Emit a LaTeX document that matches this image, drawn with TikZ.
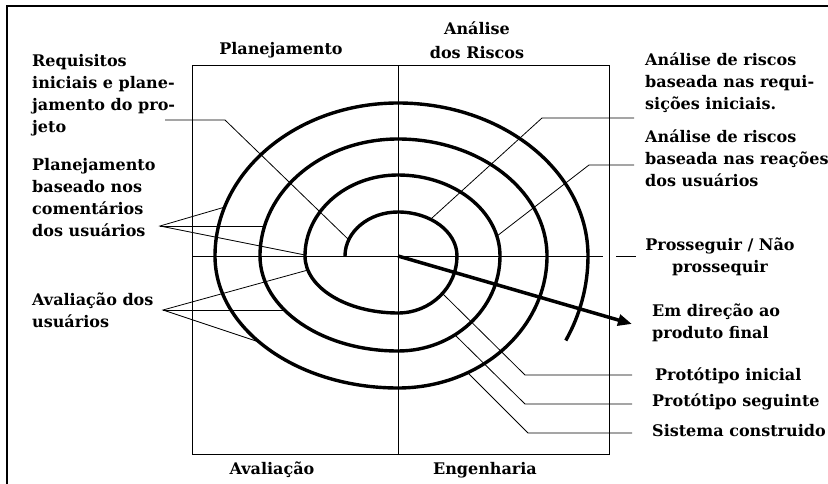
\documentclass[tikz,border=0pt]{standalone}
\usepackage{fontspec}
\setmainfont{Liberation Serif}
\newfontfamily\lblfont{DejaVu Serif}
\usetikzlibrary{positioning,arrows.meta}

\begin{document}
\begin{tikzpicture}[x=1pt, y=-1pt,
    lbl/.style={font=\lblfont\fontsize{16}{22}\selectfont\bfseries, align=left, inner sep=0pt, anchor=north west},
    quad/.style={font=\lblfont\fontsize{16}{24}\selectfont\bfseries, align=center, inner sep=0pt},
    spiral/.style={line width=3.4pt},
    lead/.style={line width=0.8pt}]
  \useasboundingbox (0,0) rectangle (828,484);
  \draw[line width=2pt] (7,484) -- (7,6) -- (828,6);

  % quadrantes
  \draw[line width=1pt] (192,66) rectangle (609,454);
  \draw[line width=1pt] (398,66) -- (398,454);
  \draw[line width=1pt] (192,256) -- (603,256);
  \coordinate (c) at (398,256);

  \node[quad] (plan) at (281,50) {Planejamento};
  \node[quad] (risco) at (477,40) {Análise\\dos Riscos};
  \node[quad] (aval) at (272,470) {Avaliação};
  \node[quad] (eng) at (485,470) {Engenharia};

  % espiral
  \draw[spiral] (345,256)
    arc[start angle=180, end angle=270, x radius=53, y radius=44]
    arc[start angle=270, end angle=360, x radius=59, y radius=44]
    arc[start angle=0, end angle=90, x radius=59, y radius=57]
    arc[start angle=90, end angle=180, x radius=93, y radius=57]
    arc[start angle=180, end angle=270, x radius=93, y radius=81]
    arc[start angle=270, end angle=360, x radius=102, y radius=81]
    arc[start angle=0, end angle=90, x radius=102, y radius=95]
    arc[start angle=90, end angle=180, x radius=138, y radius=95]
    arc[start angle=180, end angle=270, x radius=138, y radius=117]
    arc[start angle=270, end angle=360, x radius=149, y radius=117]
    arc[start angle=0, end angle=90, x radius=149, y radius=132]
    arc[start angle=90, end angle=180, x radius=183, y radius=132]
    arc[start angle=180, end angle=270, x radius=183, y radius=153]
    arc[start angle=270, end angle=360, x radius=190, y radius=153]
    arc[start angle=0, end angle=28, x radius=190, y radius=180];
  \coordinate (tip) at (632,324);
  \draw[line width=3.5pt, -{Triangle[length=14pt, width=11pt]}] (c) -- (tip);

  % textos da esquerda
  \node[lbl] (req) at (32,54) {Requisitos\\iniciais e plane-\\jamento do pro-\\jeto};
  \node[lbl] (planbase) at (32,158) {Planejamento\\baseado nos\\comentários\\dos usuários};
  \node[lbl] (avalusu) at (32,293) {Avaliação dos\\usuários};

  % textos da direita
  \node[lbl] (riscoini) at (645,53) {Análise de riscos\\baseada nas requi-\\sições iniciais.};
  \node[lbl] (riscoreac) at (645,130) {Análise de riscos\\baseada nas reações\\dos usuários};
  \node[lbl, align=center, anchor=north] (prosseg) at (720,238) {Prosseguir / Não\\prossequir};
  \node[lbl] (produto) at (652,304) {Em direção ao\\produto final};
  \node[lbl] (prot1) at (655,368) {Protótipo inicial};
  \node[lbl] (prot2) at (652,394) {Protótipo seguinte};
  \node[lbl] (sist) at (652,424) {Sistema construido};

  % linhas de chamada
  \coordinate (reqA) at (165,120);
  \coordinate (reqB) at (225,120);
  \coordinate (s0) at (349,240);
  \draw[lead] (reqA) -- (reqB) -- (s0);

  \coordinate (pb) at (160,226);
  \coordinate (pb1) at (225,207);
  \coordinate (pb2) at (265,226);
  \coordinate (pb3) at (305,255);
  \draw[lead] (pb1) -- (pb) -- (pb3);
  \draw[lead] (pb) -- (pb2);

  \coordinate (au) at (163,310);
  \coordinate (au1) at (308,270);
  \coordinate (au2) at (284,310);
  \coordinate (au3) at (259,342);
  \draw[lead] (au1) -- (au) -- (au3);
  \draw[lead] (au) -- (au2);

  \coordinate (ri) at (634,118);
  \coordinate (riB) at (542,118);
  \coordinate (ri1) at (432,218);
  \draw[lead] (ri) -- (riB) -- (ri1);

  \coordinate (rr) at (634,165);
  \coordinate (rrB) at (589,165);
  \coordinate (rr1) at (497,236);
  \draw[lead] (rr) -- (rrB) -- (rr1);

  \coordinate (ps) at (616,256);
  \coordinate (psB) at (636,256);
  \draw[lead] (ps) -- (psB);

  \coordinate (p1) at (632,375);
  \coordinate (p1B) at (525,375);
  \coordinate (p1s) at (443,294);
  \draw[lead] (p1) -- (p1B) -- (p1s);

  \coordinate (p2) at (632,404);
  \coordinate (p2B) at (525,404);
  \coordinate (p2s) at (455,335);
  \draw[lead] (p2) -- (p2B) -- (p2s);

  \coordinate (p3) at (632,433);
  \coordinate (p3B) at (528,433);
  \coordinate (p3s) at (468,373);
  \draw[lead] (p3) -- (p3B) -- (p3s);
\end{tikzpicture}
\end{document}
